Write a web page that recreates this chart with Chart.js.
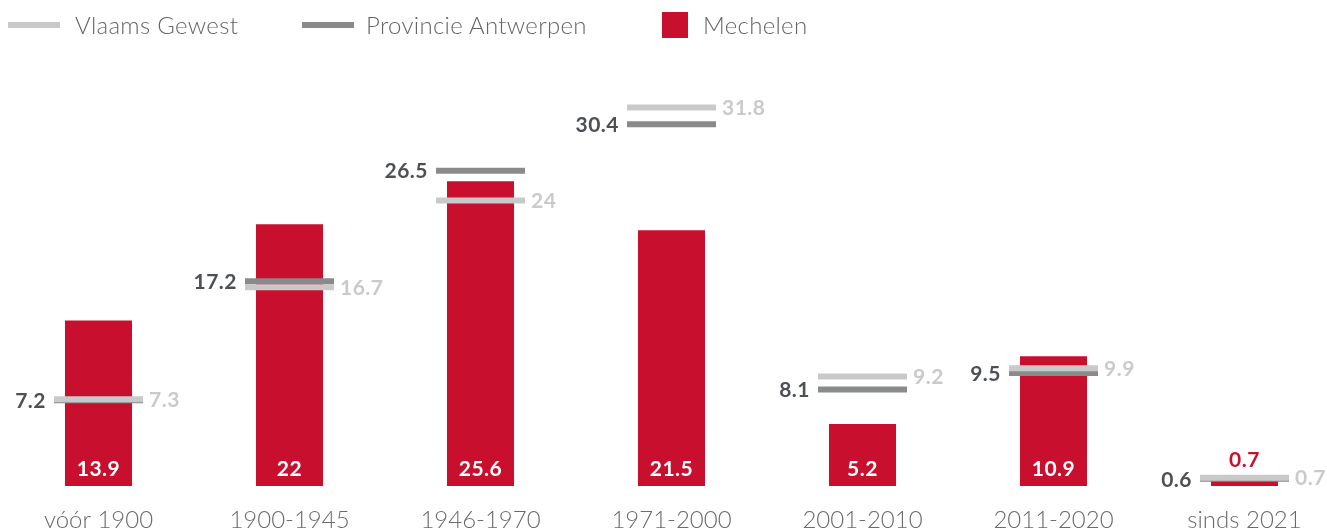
<!DOCTYPE html>
<html>
<head>
<meta charset="utf-8">
<script src="https://cdn.jsdelivr.net/npm/chart.js@4"></script>
<style>
  html, body { margin: 0; padding: 0; background: #fff; overflow: hidden; }
  .wrap { position: relative; width: 1342px; height: 532px; }
  .legend { position: absolute; top: 0; left: 0; width: 1327px; height: 50px; font-family: Lato, sans-serif; font-weight: 300; font-size: 24px; letter-spacing: 0.3px; color: #666; }
  .legend span { position: absolute; }
  .legend .txt { top: 11px; line-height: 28px; }
</style>
</head>
<body>
<div class="wrap">
  <canvas id="myChart"></canvas>
  <div class="legend">
    <span style="left:8px;top:22px;width:52px;height:6px;background:#c8c9c8"></span>
    <span class="txt" style="left:75px">Vlaams Gewest</span>
    <span style="left:302px;top:22px;width:52px;height:6px;background:#888a8c"></span>
    <span class="txt" style="left:366px">Provincie Antwerpen</span>
    <span style="left:662px;top:12px;width:26px;height:26px;background:#c8102e"></span>
    <span class="txt" style="left:703px">Mechelen</span>
  </div>
</div>
<script>
const labels = ["vóór 1900", "1900-1945", "1946-1970", "1971-2000", "2001-2010", "2011-2020", "sinds 2021"];
const mechelen = [13.9, 22, 25.6, 21.5, 5.2, 10.9, 0.7];
const provincie = [7.2, 17.2, 26.5, 30.4, 8.1, 9.5, 0.6];
const vlaams = [7.3, 16.7, 24, 31.8, 9.2, 9.9, 0.7];

const RED = "#c8102e";
const DARK = "#888a8c";
const LIGHT = "#c8c9c8";
const HALF = 44.5; // half length of the marker lines

// markers as horizontal line points
function marker(label, values, color, order) {
  return {
    type: "line",
    label: label,
    data: values,
    showLine: false,
    order: order,
    pointStyle: "line",
    pointRadius: HALF,
    pointHoverRadius: HALF,
    pointBorderWidth: 6,
    pointHoverBorderWidth: 6,
    borderColor: color,
    backgroundColor: color,
    clip: false,
  };
}

// value labels next to markers and on bars
const valueLabels = {
  id: "valueLabels",
  afterDatasetsDraw(chart) {
    const ctx = chart.ctx;
    const bars = chart.getDatasetMeta(0).data;
    const dark = chart.getDatasetMeta(1).data;
    const light = chart.getDatasetMeta(2).data;
    ctx.save();
    ctx.font = "bold 21px Lato";
    ctx.letterSpacing = "0.5px";
    ctx.textBaseline = "middle";
    dark.forEach((p, i) => {
      ctx.fillStyle = "#4d5055";
      ctx.textAlign = "right";
      ctx.fillText(String(provincie[i]), p.x - HALF - 8, p.y + 1);
    });
    light.forEach((p, i) => {
      ctx.fillStyle = "#cacaca";
      ctx.textAlign = "left";
      ctx.fillText(String(vlaams[i]), p.x + HALF + 6, p.y + 1);
    });
    ctx.textAlign = "center";
    ctx.textBaseline = "alphabetic";
    bars.forEach((b, i) => {
      const h = b.base - b.y;
      if (h > 30) {
        ctx.fillStyle = "#fff";
        ctx.fillText(String(mechelen[i]), b.x, b.base - 10);
      } else {
        const top = Math.min(b.y, dark[i].y, light[i].y);
        ctx.fillStyle = RED;
        ctx.fillText(String(mechelen[i]), b.x, top - 11);
      }
    });
    ctx.restore();
  },
};

const config = {
  type: "bar",
  data: {
    labels: labels,
    datasets: [
      {
        label: "Mechelen",
        data: mechelen,
        backgroundColor: RED,
        hoverBackgroundColor: RED,
        categoryPercentage: 1,
        barPercentage: 0.351,
        order: 3,
      },
      marker("Provincie Antwerpen", provincie, DARK, 2),
      marker("Vlaams Gewest", vlaams, LIGHT, 1),
    ],
  },
  options: {
    responsive: true,
    maintainAspectRatio: false,
    animation: false,
    events: [],
    layout: { autoPadding: false, padding: { left: 3, right: 2, top: 69.5, bottom: 0 } },
    plugins: {
      legend: { display: false },
      tooltip: { enabled: false },
    },
    scales: {
      x: {
        grid: { display: false },
        border: { display: false },
        afterFit(scale) {
          scale.height = 46;
        },
        ticks: {
          color: "#6b6b6b",
          padding: 14.5,
          maxRotation: 0,
          font: { family: "Lato", weight: 300, size: 24, lineHeight: 1 },
        },
      },
      y: {
        display: false,
        min: 0,
        max: 35,
      },
    },
  },
  plugins: [valueLabels],
};

const myChart = new Chart(document.getElementById("myChart"), config);
</script>
</body>
</html>
